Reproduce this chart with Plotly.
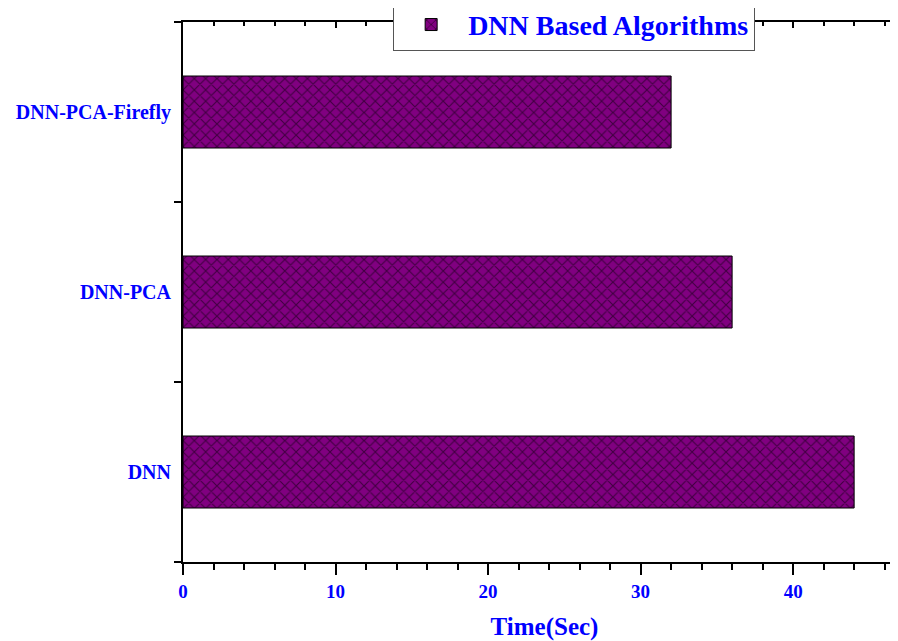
import plotly.graph_objects as go

categories = ["DNN", "DNN-PCA", "DNN-PCA-Firefly"]
times = [44, 36, 32]
series_name = "DNN Based Algorithms"
x_ticks = [0, 10, 20, 30, 40]

BLUE = "#0000FF"
PURPLE = "#800080"
FONT = "Liberation Serif"
X_MAX = 47.4

fig = go.Figure()
fig.add_trace(go.Bar(
    y=categories, x=times, orientation="h", name=series_name,
    width=0.4,
    marker=dict(color=PURPLE, line=dict(color="black", width=1),
                pattern=dict(shape="x", fgcolor="black", bgcolor=PURPLE,
                             size=8, solidity=0.25)),
    showlegend=True,
))
# invisible twin trace to carry the top axis (inward ticks)
fig.add_trace(go.Bar(
    y=categories, x=times, orientation="h", xaxis="x2",
    width=0.4, opacity=0, showlegend=False, hoverinfo="skip",
))

fig.update_layout(
    width=898, height=641,
    margin=dict(l=175, r=0, t=14, b=87, autoexpand=False),
    paper_bgcolor="white", plot_bgcolor="white",
    font=dict(family=FONT, color=BLUE),
    xaxis=dict(
        range=[0, X_MAX], tickvals=x_ticks, showgrid=False, zeroline=False,
        showline=True, linecolor="black", linewidth=2,
        ticks="outside", ticklen=11, tickwidth=2, tickcolor="black",
        minor=dict(dtick=2, ticks="outside", ticklen=6, tickwidth=1.5, tickcolor="black"),
        tickfont=dict(family=FONT, size=19, color=BLUE, weight="bold"),
        title=dict(text="<b>Time(Sec)</b>", font=dict(family=FONT, size=25, color=BLUE), standoff=17),
    ),
    xaxis2=dict(
        range=[0, X_MAX], overlaying="x", side="top", tickvals=x_ticks,
        showgrid=False, zeroline=False, showticklabels=False,
        showline=True, linecolor="black", linewidth=2,
        ticks="inside", ticklen=6, tickwidth=2, tickcolor="black",
        minor=dict(dtick=2, ticks="inside", ticklen=4, tickwidth=1.5, tickcolor="black"),
    ),
    yaxis=dict(
        range=[-0.5, 2.5], showgrid=False, zeroline=False,
        showline=True, linecolor="black", linewidth=2,
        ticks="outside", tickson="boundaries", ticklen=7, tickwidth=2, tickcolor="black",
        tickfont=dict(family=FONT, size=20, color=BLUE, weight="bold"),
        ticklabelstandoff=6,
    ),
    legend=dict(
        x=0.541, y=0.9466, xanchor="center", yanchor="bottom",
        bgcolor="white", bordercolor="#555555", borderwidth=1,
        itemwidth=64,
        font=dict(family=FONT, size=28, color=BLUE, weight="bold"),
    ),
)

fig.write_html("out.html")
